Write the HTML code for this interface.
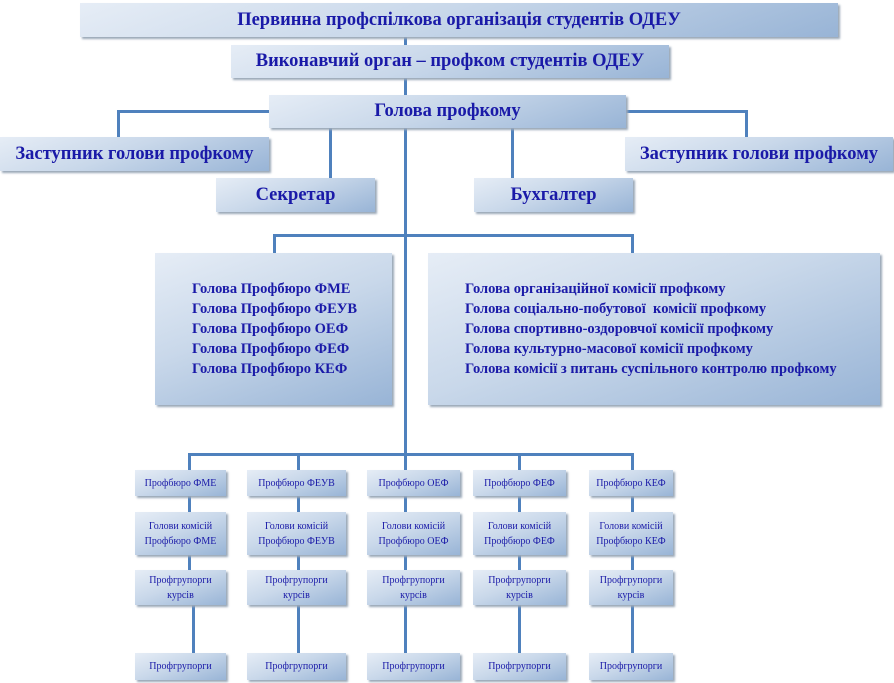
<!DOCTYPE html>
<html><head><meta charset="utf-8"><style>
body{margin:0;width:894px;height:683px;background:#fff;position:relative;overflow:hidden;font-family:"Liberation Serif",serif;}
.b{position:absolute;box-sizing:border-box;background:linear-gradient(160deg,#e6edf6 0%,#c9d8ea 45%,#98b4d6 100%);box-shadow:2px 2px 2px #9aa8b8;color:#1a1aa8;display:flex;align-items:center;justify-content:center;text-align:center;white-space:nowrap;}
.h{font-weight:bold;font-size:18.5px;}
.s{font-size:10px;line-height:15px;}
.l{position:absolute;background:#4f81bd;}
.v{width:3px}.hz{height:3px}
.big{font-weight:bold;font-size:14.5px;line-height:20px;text-align:left;justify-content:flex-start;}
</style></head><body>
<div class="l v" style="left:404px;top:37px;height:60px"></div>
<div class="l hz" style="left:117px;top:110px;width:153px"></div>
<div class="l v" style="left:117px;top:110px;height:28px"></div>
<div class="l hz" style="left:625px;top:110px;width:123px"></div>
<div class="l v" style="left:745px;top:110px;height:28px"></div>
<div class="l v" style="left:329px;top:128px;height:51px"></div>
<div class="l v" style="left:511px;top:128px;height:51px"></div>
<div class="l v" style="left:404px;top:128px;height:328px"></div>
<div class="l hz" style="left:273px;top:234px;width:361px"></div>
<div class="l v" style="left:273px;top:234px;height:20px"></div>
<div class="l v" style="left:631px;top:234px;height:20px"></div>
<div class="l hz" style="left:188px;top:453px;width:446px"></div>
<div class="l v" style="left:188px;top:453px;height:120px"></div>
<div class="l v" style="left:192px;top:600px;height:54px"></div>
<div class="l v" style="left:297px;top:453px;height:201px"></div>
<div class="l v" style="left:404px;top:453px;height:201px"></div>
<div class="l v" style="left:518px;top:453px;height:201px"></div>
<div class="l v" style="left:631px;top:453px;height:201px"></div>
<div class="b h" style="left:80px;top:3px;width:758px;height:34px">Первинна профспілкова організація студентів ОДЕУ</div>
<div class="b h" style="left:231px;top:45px;width:438px;height:33px">Виконавчий орган – профком студентів ОДЕУ</div>
<div class="b h" style="left:269px;top:95px;width:357px;height:33px">Голова профкому</div>
<div class="b h" style="left:0px;top:137px;width:269px;height:34px">Заступник голови профкому</div>
<div class="b h" style="left:625px;top:137px;width:268px;height:34px">Заступник голови профкому</div>
<div class="b h" style="left:216px;top:178px;width:159px;height:34px">Секретар</div>
<div class="b h" style="left:474px;top:178px;width:159px;height:34px">Бухгалтер</div>
<div class="b big" style="left:155px;top:253px;width:237px;height:152px;padding-left:37px">Голова Профбюро ФМЕ<br>Голова Профбюро ФЕУВ<br>Голова Профбюро ОЕФ<br>Голова Профбюро ФЕФ<br>Голова Профбюро КЕФ</div>
<div class="b big" style="left:428px;top:253px;width:452px;height:152px;padding-left:37px">Голова організаційної комісії профкому<br>Голова соціально-побутової&nbsp; комісії профкому<br>Голова спортивно-оздоровчої комісії профкому<br>Голова культурно-масової комісії профкому<br>Голова комісії з питань суспільного контролю профкому</div>
<div class="b s" style="left:135px;top:470px;width:91px;height:26px">Профбюро ФМЕ</div>
<div class="b s" style="left:135px;top:512px;width:91px;height:43px">Голови комісій<br>Профбюро ФМЕ</div>
<div class="b s" style="left:135px;top:570px;width:91px;height:35px">Профгрупорги<br>курсів</div>
<div class="b s" style="left:135px;top:653px;width:91px;height:27px">Профгрупорги</div>
<div class="b s" style="left:247px;top:470px;width:99px;height:26px">Профбюро ФЕУВ</div>
<div class="b s" style="left:247px;top:512px;width:99px;height:43px">Голови комісій<br>Профбюро ФЕУВ</div>
<div class="b s" style="left:247px;top:570px;width:99px;height:35px">Профгрупорги<br>курсів</div>
<div class="b s" style="left:247px;top:653px;width:99px;height:27px">Профгрупорги</div>
<div class="b s" style="left:367px;top:470px;width:93px;height:26px">Профбюро ОЕФ</div>
<div class="b s" style="left:367px;top:512px;width:93px;height:43px">Голови комісій<br>Профбюро ОЕФ</div>
<div class="b s" style="left:367px;top:570px;width:93px;height:35px">Профгрупорги<br>курсів</div>
<div class="b s" style="left:367px;top:653px;width:93px;height:27px">Профгрупорги</div>
<div class="b s" style="left:473px;top:470px;width:93px;height:26px">Профбюро ФЕФ</div>
<div class="b s" style="left:473px;top:512px;width:93px;height:43px">Голови комісій<br>Профбюро ФЕФ</div>
<div class="b s" style="left:473px;top:570px;width:93px;height:35px">Профгрупорги<br>курсів</div>
<div class="b s" style="left:473px;top:653px;width:93px;height:27px">Профгрупорги</div>
<div class="b s" style="left:589px;top:470px;width:84px;height:26px">Профбюро КЕФ</div>
<div class="b s" style="left:589px;top:512px;width:84px;height:43px">Голови комісій<br>Профбюро КЕФ</div>
<div class="b s" style="left:589px;top:570px;width:84px;height:35px">Профгрупорги<br>курсів</div>
<div class="b s" style="left:589px;top:653px;width:84px;height:27px">Профгрупорги</div>
</body></html>
